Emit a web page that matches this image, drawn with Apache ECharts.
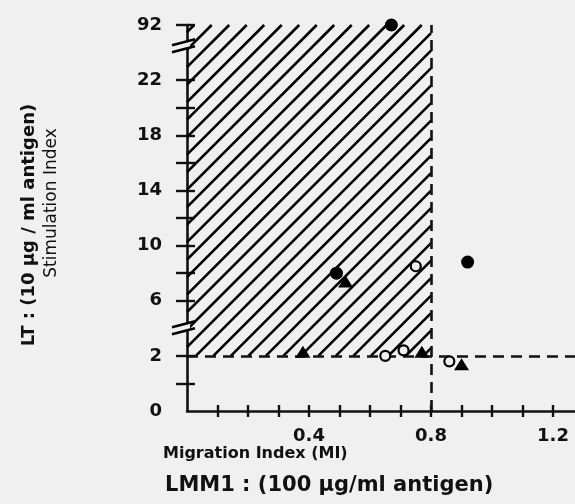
<!DOCTYPE html>
<html>
<head>
<meta charset="utf-8">
<script src="https://cdn.jsdelivr.net/npm/echarts@6/dist/echarts.min.js"></script>
<style>
  html, body { margin: 0; padding: 0; background: #f0f0f0; }
  #chart { width: 575px; height: 504px; }
</style>
</head>
<body>
<div id="chart"></div>
<script>
// Migration index (LMM1) against stimulation index (LT), three response groups
const filledMI = [0.67, 0.49, 0.92];
const filledSI = [92, 8.0, 8.8];
const openMI = [0.75, 0.65, 0.71, 0.86];
const openSI = [8.5, 2.0, 2.4, 1.8];
const triMI = [0.52, 0.38, 0.77, 0.90];
const triSI = [7.4, 2.3, 2.3, 1.7];

// axis ticks and labels
const xTickValues = [0.1, 0.2, 0.3, 0.4, 0.5, 0.6, 0.7, 0.8, 0.9, 1.0, 1.1, 1.2];
const xLabelValues = [0.4, 0.8, 1.2];
const yTickValues = [1, 2, 6, 8, 10, 12, 14, 16, 18, 20, 22, 92];
const yLabelValues = [0, 2, 6, 10, 14, 18, 22, 92];
const yBreakValues = [4, 65];
const xMax = 1.272;

// positive-response cut-offs
const cutoffMI = 0.8;
const cutoffSI = 2;
const topSI = 92;

// broken stimulation-index scale: value -> linear axis position
const yKnots = [[0, 0], [2, 2], [22, 12], [92, 14]];
function toPos(v) {
  for (let i = 1; i < yKnots.length; i++) {
    const a = yKnots[i - 1], b = yKnots[i];
    if (v <= b[0] || i === yKnots.length - 1) {
      return a[1] + (v - a[0]) * (b[1] - a[1]) / (b[0] - a[0]);
    }
  }
}
function labelForPos(p) {
  for (const v of yLabelValues) {
    if (Math.abs(toPos(v) - p) < 1e-6) return String(v);
  }
  return '';
}

function pairs(xs, ys) {
  return xs.map((x, i) => [x, toPos(ys[i])]);
}

const font = '"DejaVu Sans", sans-serif';
const ink = '#111';
const paper = '#f0f0f0';

// hatching: "/" strokes every 17.5 px, clipped to the shaded rectangle
const hatchStep = 17.5;
const hatchPhase = 9.2;
function hatchLines(r) {
  const x0 = r.x, x1 = r.x + r.width, y0 = r.y, y1 = r.y + r.height;
  const out = [];
  const kStart = Math.floor((x0 + y0 - hatchPhase) / hatchStep);
  const kEnd = Math.ceil((x1 + y1 - hatchPhase) / hatchStep);
  for (let k = kStart; k <= kEnd; k++) {
    const c = hatchPhase + k * hatchStep;
    const xs = Math.max(x0, c - y1);
    const xe = Math.min(x1, c - y0);
    if (xe - xs < 0.5) continue;
    out.push({
      type: 'line',
      shape: { x1: xs, y1: c - xs, x2: xe, y2: c - xe },
      style: { stroke: '#000', lineWidth: 2.6 }
    });
  }
  return out;
}

const chart = echarts.init(document.getElementById('chart'), null, { renderer: 'canvas' });

const gridRect = { left: 187, right: 0, top: 25, bottom: 93, outerBoundsMode: 'none', containLabel: false };

const option = {
  backgroundColor: paper,
  animation: false,
  grid: [Object.assign({}, gridRect), Object.assign({}, gridRect)],
  xAxis: [
    {
      type: 'value', gridIndex: 0, min: 0, max: xMax,
      splitLine: { show: false },
      axisLine: { lineStyle: { color: ink, width: 2.6 } },
      axisTick: { customValues: xTickValues, length: 6, lineStyle: { color: ink, width: 2.4 } },
      axisLabel: {
        customValues: xLabelValues, margin: 16,
        formatter: v => v.toFixed(1),
        color: ink, fontSize: 18, fontWeight: 'bold', fontFamily: font
      }
    },
    {
      type: 'value', gridIndex: 1, min: 0, max: xMax,
      splitLine: { show: false },
      axisLine: { show: false },
      axisTick: { customValues: xTickValues, inside: true, length: 6, lineStyle: { color: ink, width: 2.4 } },
      axisLabel: { show: false }
    }
  ],
  yAxis: [
    {
      type: 'value', gridIndex: 0, min: 0, max: toPos(topSI),
      splitLine: { show: false },
      axisLine: { lineStyle: { color: ink, width: 2.6 } },
      axisTick: { customValues: yTickValues.map(toPos), length: 11, lineStyle: { color: ink, width: 2.4 } },
      axisLabel: {
        customValues: yLabelValues.map(toPos), margin: 25,
        formatter: labelForPos,
        color: ink, fontSize: 18, fontWeight: 'bold', fontFamily: font
      }
    },
    {
      type: 'value', gridIndex: 1, min: 0, max: toPos(topSI),
      splitLine: { show: false },
      axisLine: { show: false },
      axisTick: { customValues: yTickValues.map(toPos), inside: true, length: 8, lineStyle: { color: ink, width: 2.4 } },
      axisLabel: { show: false }
    }
  ],
  series: [
    {
      // hatched quadrant: MI below the cut-off, SI above it
      type: 'custom', z: 1, clip: false, silent: true,
      data: [[0, toPos(cutoffSI), cutoffMI, toPos(topSI)]],
      renderItem: function (params, api) {
        const a = api.coord([api.value(0), api.value(1)]);
        const b = api.coord([api.value(2), api.value(3)]);
        const rect = {
          x: Math.min(a[0], b[0]), y: Math.min(a[1], b[1]),
          width: Math.abs(b[0] - a[0]), height: Math.abs(b[1] - a[1])
        };
        return { type: 'group', children: hatchLines(rect) };
      }
    },
    {
      // dashed cut-off lines
      type: 'line', data: [], z: 2, silent: true,
      markLine: {
        silent: true,
        symbol: ['none', 'none'],
        label: { show: false },
        lineStyle: { color: ink, width: 2.6, type: [11, 7] },
        data: [
          [{ coord: [cutoffMI, 0] }, { coord: [cutoffMI, toPos(topSI)] }],
          [{ coord: [0, toPos(cutoffSI)] }, { coord: [xMax, toPos(cutoffSI)] }]
        ]
      }
    },
    {
      type: 'scatter', z: 5, clip: false,
      symbol: 'triangle', symbolSize: [15, 12],
      itemStyle: { color: '#000', opacity: 1 },
      data: pairs(triMI, triSI)
    },
    {
      type: 'scatter', z: 6, clip: false,
      symbol: 'circle', symbolSize: 10,
      itemStyle: { color: paper, borderColor: '#000', borderWidth: 2.2, opacity: 1 },
      data: pairs(openMI, openSI)
    },
    {
      type: 'scatter', z: 6, clip: false,
      symbol: 'circle', symbolSize: 13,
      itemStyle: { color: '#000', opacity: 1 },
      data: pairs(filledMI, filledSI)
    },
    {
      // axis-break marks on the stimulation-index axis
      type: 'custom', z: 10, clip: false, silent: true,
      data: yBreakValues.map(v => [0, toPos(v)]),
      renderItem: function (params, api) {
        const p = api.coord([api.value(0), api.value(1)]);
        const x = p[0], y = p[1];
        return {
          type: 'group',
          children: [
            {
              type: 'polygon',
              shape: { points: [[x - 3, y - 4], [x + 3, y - 6], [x + 3, y + 1], [x - 3, y + 3]] },
              style: { fill: paper }
            },
            {
              type: 'line',
              shape: { x1: x - 15, y1: y - 1, x2: x + 8, y2: y - 7 },
              style: { stroke: '#000', lineWidth: 2.4 }
            },
            {
              type: 'line',
              shape: { x1: x - 15, y1: y + 6, x2: x + 8, y2: y },
              style: { stroke: '#000', lineWidth: 2.4 }
            }
          ]
        };
      }
    }
  ],
  graphic: [
    {
      type: 'text', x: 29, y: 225, rotation: Math.PI / 2,
      style: {
        text: 'LT : (10 µg / ml antigen)', fill: ink,
        fontSize: 18, fontWeight: 'bold', fontFamily: font,
        align: 'center', verticalAlign: 'middle', textAlign: 'center', textVerticalAlign: 'middle'
      }
    },
    {
      type: 'text', x: 52, y: 203, rotation: Math.PI / 2,
      style: {
        text: 'Stimulation Index', fill: ink,
        fontSize: 17, fontFamily: font,
        align: 'center', verticalAlign: 'middle', textAlign: 'center', textVerticalAlign: 'middle'
      }
    },
    {
      type: 'text', x: 163, y: 446,
      style: {
        text: 'Migration Index (MI)', fill: ink,
        fontSize: 16, fontWeight: 'bold', fontFamily: font,
        align: 'left', verticalAlign: 'top', textAlign: 'left', textVerticalAlign: 'top'
      }
    },
    {
      type: 'text', x: 165, y: 475,
      style: {
        text: 'LMM1 : (100 µg/ml antigen)', fill: ink,
        fontSize: 21, fontWeight: 'bold', fontFamily: font,
        align: 'left', verticalAlign: 'top', textAlign: 'left', textVerticalAlign: 'top'
      }
    }
  ]
};

chart.setOption(option);
</script>
</body>
</html>
